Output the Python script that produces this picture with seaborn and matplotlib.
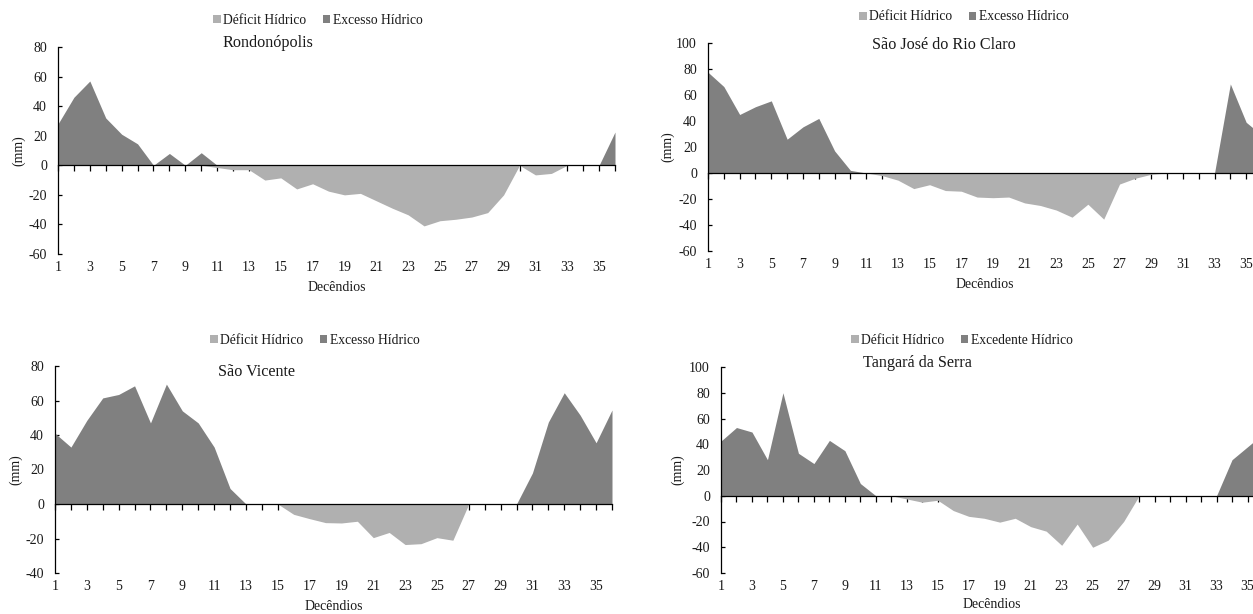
import numpy as np
import pandas as pd
import matplotlib
matplotlib.use("Agg")
import matplotlib.pyplot as plt
from matplotlib.patches import Patch
import seaborn as sns

# ---------------- data ----------------
decendios = list(range(1, 37))

rond_excesso = [28, 46, 57, 32, 21, 14.5, 0, 8, 0, 8.5, 0, 0, 0, 0, 0, 0, 0, 0,
                0, 0, 0, 0, 0, 0, 0, 0, 0, 0, 0, 0, 0, 0, 0, 0, 0, 22.5]
rond_deficit = [0, 0, 0, 0, 0, 0, 0, 0, 0, 0, -1.5, -3, -3, -10, -8.5, -16, -12.5, -17.5,
                -20, -19, -24, -29, -33.5, -41, -37.5, -36.5, -35, -32, -20, 0, -6.5, -5.5, 0, 0, 0, 0]

sjrc_excesso = [77.5, 66.5, 45, 51, 55.5, 26, 35.5, 42, 17, 2, 0, 0, 0, 0, 0, 0, 0, 0,
                0, 0, 0, 0, 0, 0, 0, 0, 0, 0, 0, 0, 0, 0, 0, 68.5, 39, 29]
sjrc_deficit = [0, 0, 0, 0, 0, 0, 0, 0, 0, 0, 0, -2, -5.5, -12, -9, -13.5, -14, -18.5,
                -19, -18.5, -23, -25, -28.5, -34, -24, -35.5, -8.5, -4, -1, 0, 0, 0, 0, 0, 0, 0]

svic_excesso = [41, 33, 48.5, 61.5, 63.5, 68.5, 47, 69.5, 54, 47, 33, 9, 0, 0, 0, 0, 0, 0,
                0, 0, 0, 0, 0, 0, 0, 0, 0, 0, 0, 0, 18, 47.5, 64.5, 51.5, 35.5, 54.5]
svic_deficit = [0, 0, 0, 0, 0, 0, 0, 0, 0, 0, 0, 0, 0, 0, 0, -6, -8.5, -10.8,
                -11, -10, -19.5, -16.5, -23.5, -23, -19.5, -21, 0, 0, 0, 0, 0, 0, 0, 0, 0, 0]

tang_excesso = [42.5, 53, 49.5, 28, 80, 33, 25, 43, 35, 9.5, 0, 0, 0, 0, 0, 0, 0, 0,
                0, 0, 0, 0, 0, 0, 0, 0, 0, 0, 0, 0, 0, 0, 0, 28, 38, 48]
tang_deficit = [0, 0, 0, 0, 0, 0, 0, 0, 0, 0, 0, 0, -2.5, -5, -3.5, -11.5, -16, -17.5,
                -20.5, -17.5, -24, -27.5, -38.5, -22, -40, -34.5, -20, 0, 0, 0, 0, 0, 0, 0, 0, 0]

stations = ["Rondonópolis", "São José do Rio Claro", "São Vicente", "Tangará da Serra"]
legend_deficit = "Déficit Hídrico"
legend_excess = ["Excesso Hídrico", "Excesso Hídrico", "Excesso Hídrico", "Excedente Hídrico"]
x_label = "Decêndios"
y_label = "(mm)"
y_limits = [(-60, 80), (-60, 100), (-40, 80), (-60, 100)]
tick_labels = [str(v) for v in range(1, 36, 2)]

df = pd.DataFrame({
    "decendio": decendios * 4,
    "estacao": sum([[s] * 36 for s in stations], []),
    "excesso": rond_excesso + sjrc_excesso + svic_excesso + tang_excesso,
    "deficit": rond_deficit + sjrc_deficit + svic_deficit + tang_deficit,
})

# ---------------- style ----------------
sns.set_theme(style="white")
plt.rcParams["font.family"] = ["Liberation Serif", "DejaVu Serif"]
plt.rcParams["axes.linewidth"] = 0.9
plt.rcParams["axes.unicode_minus"] = False

W, H = 1253, 614
fig = plt.figure(figsize=(W / 100, H / 100), dpi=100)

c_def = "#b0b0b0"
c_exc = "#808080"
txt = "#1a1a1a"

# pixel layout: left, right(x=36), top, bottom
boxes = [(58, 615, 47, 254), (708, 1262, 43, 251), (55, 612, 366, 573), (721, 1263, 367, 573)]
title_pos = [(268, 43), (944, 45), (257, 372), (917, 363)]
legend_pos = [(318, 20), (964, 17), (315, 340), (962, 340)]
ylab_x = [25, 674, 22, 684]
xlab_top = [281, 278, 600, 598]

for i, st in enumerate(stations):
    l, r, t, b = boxes[i]
    ax = fig.add_axes([l / W, 1 - b / H, (r - l) / W, (b - t) / H])
    sub = df[df["estacao"] == st]
    ax.fill_between(sub["decendio"], 0, sub["deficit"], color=c_def, lw=0, zorder=1)
    ax.fill_between(sub["decendio"], 0, sub["excesso"], color=c_exc, lw=0, zorder=1)
    ylo, yhi = y_limits[i]
    ax.set_xlim(1, 36)
    ax.set_ylim(ylo, yhi)
    ax.set_yticks(np.arange(ylo, yhi + 1, 20))
    ax.tick_params(axis="y", direction="in", length=3, width=0.9, color="black",
                   labelsize=10, pad=8, left=True, labelcolor=txt)
    sns.despine(ax=ax, top=True, right=True)
    ax.spines["left"].set_color("black")
    ax.spines["bottom"].set_color("black")
    ax.spines["bottom"].set_position(("data", 0))
    ax.spines["bottom"].set_zorder(3)
    ax.set_xticks(decendios)
    ax.tick_params(axis="x", direction="out", length=4, width=0.9, color="black",
                   labelbottom=False, bottom=True)
    sec = ax.secondary_xaxis("bottom")
    sec.set_xticks(list(range(1, 36, 2)))
    sec.set_xticklabels(tick_labels)
    sec.tick_params(axis="x", length=0, labelsize=10, pad=5, labelcolor=txt)
    sec.spines["bottom"].set_visible(False)
    ax.set_xlabel(x_label, fontsize=10, color=txt)
    ax.xaxis.set_label_coords(0.5, (b - xlab_top[i]) / (b - t))
    ax.set_ylabel(y_label, fontsize=10, color=txt)
    ax.yaxis.set_label_coords((ylab_x[i] - l) / (r - l), 0.5)
    ax.set_facecolor("none")

    fig.text(title_pos[i][0] / W, 1 - title_pos[i][1] / H, st, ha="center", va="center",
             fontsize=11.6, color=txt)
    handles = [Patch(facecolor=c_def, edgecolor="none"), Patch(facecolor=c_exc, edgecolor="none")]
    ax.legend(handles, [legend_deficit, legend_excess[i]], loc="center",
              bbox_to_anchor=(legend_pos[i][0] / W, 1 - legend_pos[i][1] / H),
              bbox_transform=fig.transFigure, ncol=2, frameon=False, fontsize=9.8,
              handlelength=0.55, handleheight=0.55, handletextpad=0.2, columnspacing=1.2,
              borderpad=0, borderaxespad=0, labelcolor=txt)

fig.savefig("out.png", dpi=100, facecolor="white")
